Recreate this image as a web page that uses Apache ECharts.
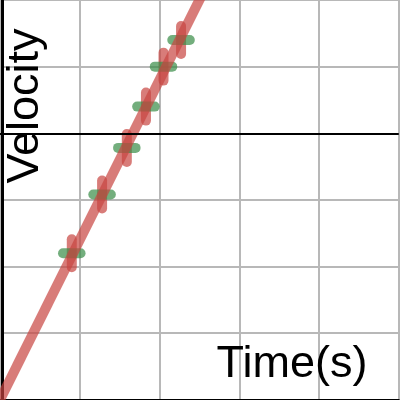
<!DOCTYPE html>
<html>
<head>
<meta charset="utf-8">
<script src="https://cdn.jsdelivr.net/npm/echarts@6/dist/echarts.min.js"></script>
<style>html,body{margin:0;padding:0;background:#fff;}#c{width:400px;height:400px;}</style>
</head>
<body>
<div id="c"></div>
<script>
// Data
const pointX = [0.9, 1.28, 1.59, 1.83, 2.05, 2.27];
const pointY = [-1.8, -0.92, -0.22, 0.4, 1.0, 1.4];
const xError = [0.11, 0.11, 0.11, 0.11, 0.11, 0.11];
const yError = [0.21, 0.21, 0.21, 0.21, 0.21, 0.21];
const fitX = [-0.5, 3];
const fitY = [-5.2, 3.2];
const xAxisName = 'Time(s)';
const yAxisName = 'Velocity';

const chart = echarts.init(document.getElementById('c'), null, {renderer: 'canvas'});
const RED = 'rgba(199,68,64,0.7)';
const GREEN = 'rgba(56,140,70,0.7)';

chart.setOption({
  animation: false,
  backgroundColor: '#fff',
  grid: {left: -1.2, top: -1.95, width: 400, height: 401.7, containLabel: false},
  xAxis: {
    type: 'value', min: 0, max: 5, interval: 1,
    axisLine: {show: true, onZero: false, lineStyle: {color: '#000', width: 2}},
    axisTick: {show: false}, axisLabel: {show: false},
    splitLine: {show: true, lineStyle: {color: '#b8b8b8', width: 2}}
  },
  yAxis: {
    type: 'value', min: -4, max: 2, interval: 1, offset: -2.5,
    axisLine: {show: true, onZero: false, lineStyle: {color: '#000', width: 3}},
    axisTick: {show: false}, axisLabel: {show: false},
    splitLine: {show: true, lineStyle: {color: '#b8b8b8', width: 2}}
  },
  graphic: [
    {type: 'text', x: 26, y: 106, rotation: Math.PI / 2, z: 100,
      style: {text: yAxisName, font: '45px "Liberation Sans", Arial, sans-serif', fill: '#000', textAlign: 'center', textVerticalAlign: 'middle'}},
    {type: 'text', x: 292, y: 365, z: 100,
      style: {text: xAxisName, font: '45px "Liberation Sans", Arial, sans-serif', fill: '#000', textAlign: 'center', textVerticalAlign: 'middle'}}
  ],
  series: [
    {
      type: 'line', clip: true, symbol: 'none', silent: true,
      data: fitX.map((x, i) => [x, fitY[i]]),
      lineStyle: {color: '#c74440', width: 10, opacity: 0.7},
      markLine: {
        silent: true, symbol: ['none', 'none'], label: {show: false},
        lineStyle: {color: '#000', width: 2, type: 'solid'},
        data: [{yAxis: 0}]
      }
    },
    {
      type: 'custom', silent: true, clip: true,
      data: pointX.map((x, i) => [x, pointY[i], xError[i], yError[i]]),
      renderItem: function (params, api) {
        const x = api.value(0), y = api.value(1), ex = api.value(2), ey = api.value(3);
        const v1 = api.coord([x, y - ey]), v2 = api.coord([x, y + ey]);
        const h1 = api.coord([x - ex, y]), h2 = api.coord([x + ex, y]);
        return {
          type: 'group',
          children: [
            {type: 'line', shape: {x1: v1[0], y1: v1[1], x2: v2[0], y2: v2[1]},
              style: {stroke: RED, lineWidth: 10, lineCap: 'round'}},
            {type: 'line', shape: {x1: h1[0], y1: h1[1], x2: h2[0], y2: h2[1]},
              style: {stroke: GREEN, lineWidth: 10, lineCap: 'round'}}
          ]
        };
      }
    }
  ]
});
</script>
</body>
</html>
